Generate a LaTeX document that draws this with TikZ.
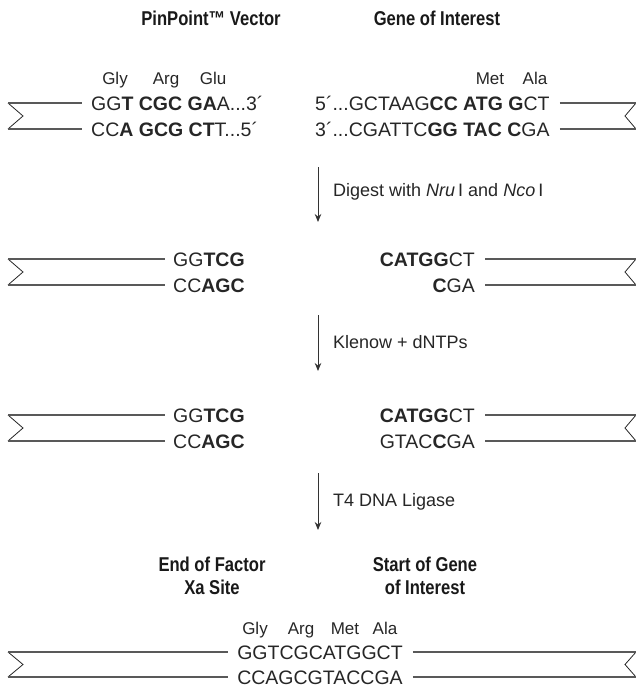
\documentclass[tikz,border=0pt]{standalone}
\usepackage{fontspec}
\setmainfont{Liberation Sans}
\newfontfamily\headfont[FakeStretch=0.83]{Liberation Sans}
\usetikzlibrary{arrows.meta}

\tikzset{
  seq/.style={font=\fontsize{19.5}{20}\selectfont, text=black!85, inner sep=0pt, text height=14pt, text depth=0pt},
  amino/.style={font=\fontsize{17}{18}\selectfont, text=black!85, inner sep=0pt, anchor=base},
  head/.style={font=\headfont\bfseries\fontsize{20}{23}\selectfont, text=black!90, inner sep=0pt, align=center},
  steplabel/.style={font=\fontsize{18}{19}\selectfont, text=black!85, inner sep=0pt, anchor=west},
  strand/.style={draw=black!65, line width=1.5pt},
  endcut/.style={draw=black!85, line width=0.8pt, line join=miter},
  stepline/.style={draw=black!80, line width=1pt, -{Stealth[length=8pt,width=6.5pt]}},
}

\begin{document}
\begin{tikzpicture}[x=1pt, y=-1pt]
   \useasboundingbox (0,0) rectangle (636,688);

   % headings
   \node[head] (vechead) at (211,18) {PinPoint™ Vector};
   \node[head] (genehead) at (437,18) {Gene of Interest};

   % starting sequences
   \node[amino] (gly1) at (115,84) {Gly};
   \node[amino] (arg1) at (166,84) {Arg};
   \node[amino] (glu1) at (213,84) {Glu};
   \node[amino] (met1) at (490,84) {Met};
   \node[amino] (ala1) at (535,84) {Ala};

   \node[seq, anchor=west] (vtop1) at (91,103) {GG\textbf{T CGC GA}A...3´};
   \node[seq, anchor=west] (vbot1) at (91,129) {CC\textbf{A GCG CT}T...5´};
   \node[seq, anchor=west] (gtop1) at (315,103) {5´...GCTAAG\textbf{CC ATG G}CT};
   \node[seq, anchor=west] (gbot1) at (315,129) {3´...CGATTC\textbf{GG TAC C}GA};

   % cut ends, left and right
   \foreach \ya/\yb [count=\i] in {103/129, 259/285, 415/441, 652/677} {
      \coordinate (la\i) at (8,\ya);
      \coordinate (lb\i) at (8,\yb);
      \coordinate (ra\i) at (636,\ya);
      \coordinate (rb\i) at (636,\yb);
      \draw[endcut] (la\i) -- (23,{(\ya+\yb)/2}) -- (lb\i);
      \draw[endcut] (ra\i) -- (625,{(\ya+\yb)/2}) -- (rb\i);
   }

   \draw[strand] (la1) -- ([xshift=-9pt]vtop1.west);
   \draw[strand] (lb1) -- ([xshift=-9pt]vbot1.west);
   \draw[strand] ([xshift=10pt]gtop1.east) -- (ra1);
   \draw[strand] ([xshift=10pt]gbot1.east) -- (rb1);

   % digest
   \coordinate (dig1) at (318,167);
   \coordinate (dig2) at (318,222);
   \draw[stepline] (dig1) -- (dig2);
   \node[steplabel] (diglabel) at (333,192) {Digest with \textit{Nru}\,I and \textit{Nco}\,I};

   \node[seq, anchor=west] (vtop2) at (173,259) {GG\textbf{TCG}};
   \node[seq, anchor=west] (vbot2) at (173,285) {CC\textbf{AGC}};
   \node[seq, anchor=east] (gtop2) at (475,259) {\textbf{CATGG}CT};
   \node[seq, anchor=east] (gbot2) at (475,285) {\textbf{C}GA};

   \draw[strand] (la2) -- ([xshift=-8pt]vtop2.west);
   \draw[strand] (lb2) -- ([xshift=-8pt]vbot2.west);
   \draw[strand] ([xshift=10pt]gtop2.east) -- (ra2);
   \draw[strand] ([xshift=10pt]gbot2.east) -- (rb2);

   % fill in
   \coordinate (kle1) at (318,315);
   \coordinate (kle2) at (318,371);
   \draw[stepline] (kle1) -- (kle2);
   \node[steplabel] (klelabel) at (333,342) {Klenow + dNTPs};

   \node[seq, anchor=west] (vtop3) at (173,415) {GG\textbf{TCG}};
   \node[seq, anchor=west] (vbot3) at (173,441) {CC\textbf{AGC}};
   \node[seq, anchor=east] (gtop3) at (475,415) {\textbf{CATGG}CT};
   \node[seq, anchor=east] (gbot3) at (475,441) {GTAC\textbf{C}GA};

   \draw[strand] (la3) -- ([xshift=-8pt]vtop3.west);
   \draw[strand] (lb3) -- ([xshift=-8pt]vbot3.west);
   \draw[strand] ([xshift=10pt]gtop3.east) -- (ra3);
   \draw[strand] ([xshift=10pt]gbot3.east) -- (rb3);

   % ligation
   \coordinate (lig1) at (318,473);
   \coordinate (lig2) at (318,530);
   \draw[stepline] (lig1) -- (lig2);
   \node[steplabel] (liglabel) at (333,502) {T4 DNA Ligase};

   \node[head] (xahead) at (212,576) {End of Factor\\Xa Site};
   \node[head] (starthead) at (425,576) {Start of Gene\\of Interest};

   \node[amino] (gly4) at (255,634) {Gly};
   \node[amino] (arg4) at (301,634) {Arg};
   \node[amino] (met4) at (345,634) {Met};
   \node[amino] (ala4) at (385,634) {Ala};

   \node[seq] (top4) at (320,652) {GGTCGCATGGCT};
   \node[seq] (bot4) at (320,677) {CCAGCGTACCGA};

   \draw[strand] (la4) -- ([xshift=-9pt]top4.west);
   \draw[strand] (lb4) -- ([xshift=-9pt]bot4.west);
   \draw[strand] ([xshift=10pt]top4.east) -- (ra4);
   \draw[strand] ([xshift=10pt]bot4.east) -- (rb4);

\end{tikzpicture}
\end{document}
